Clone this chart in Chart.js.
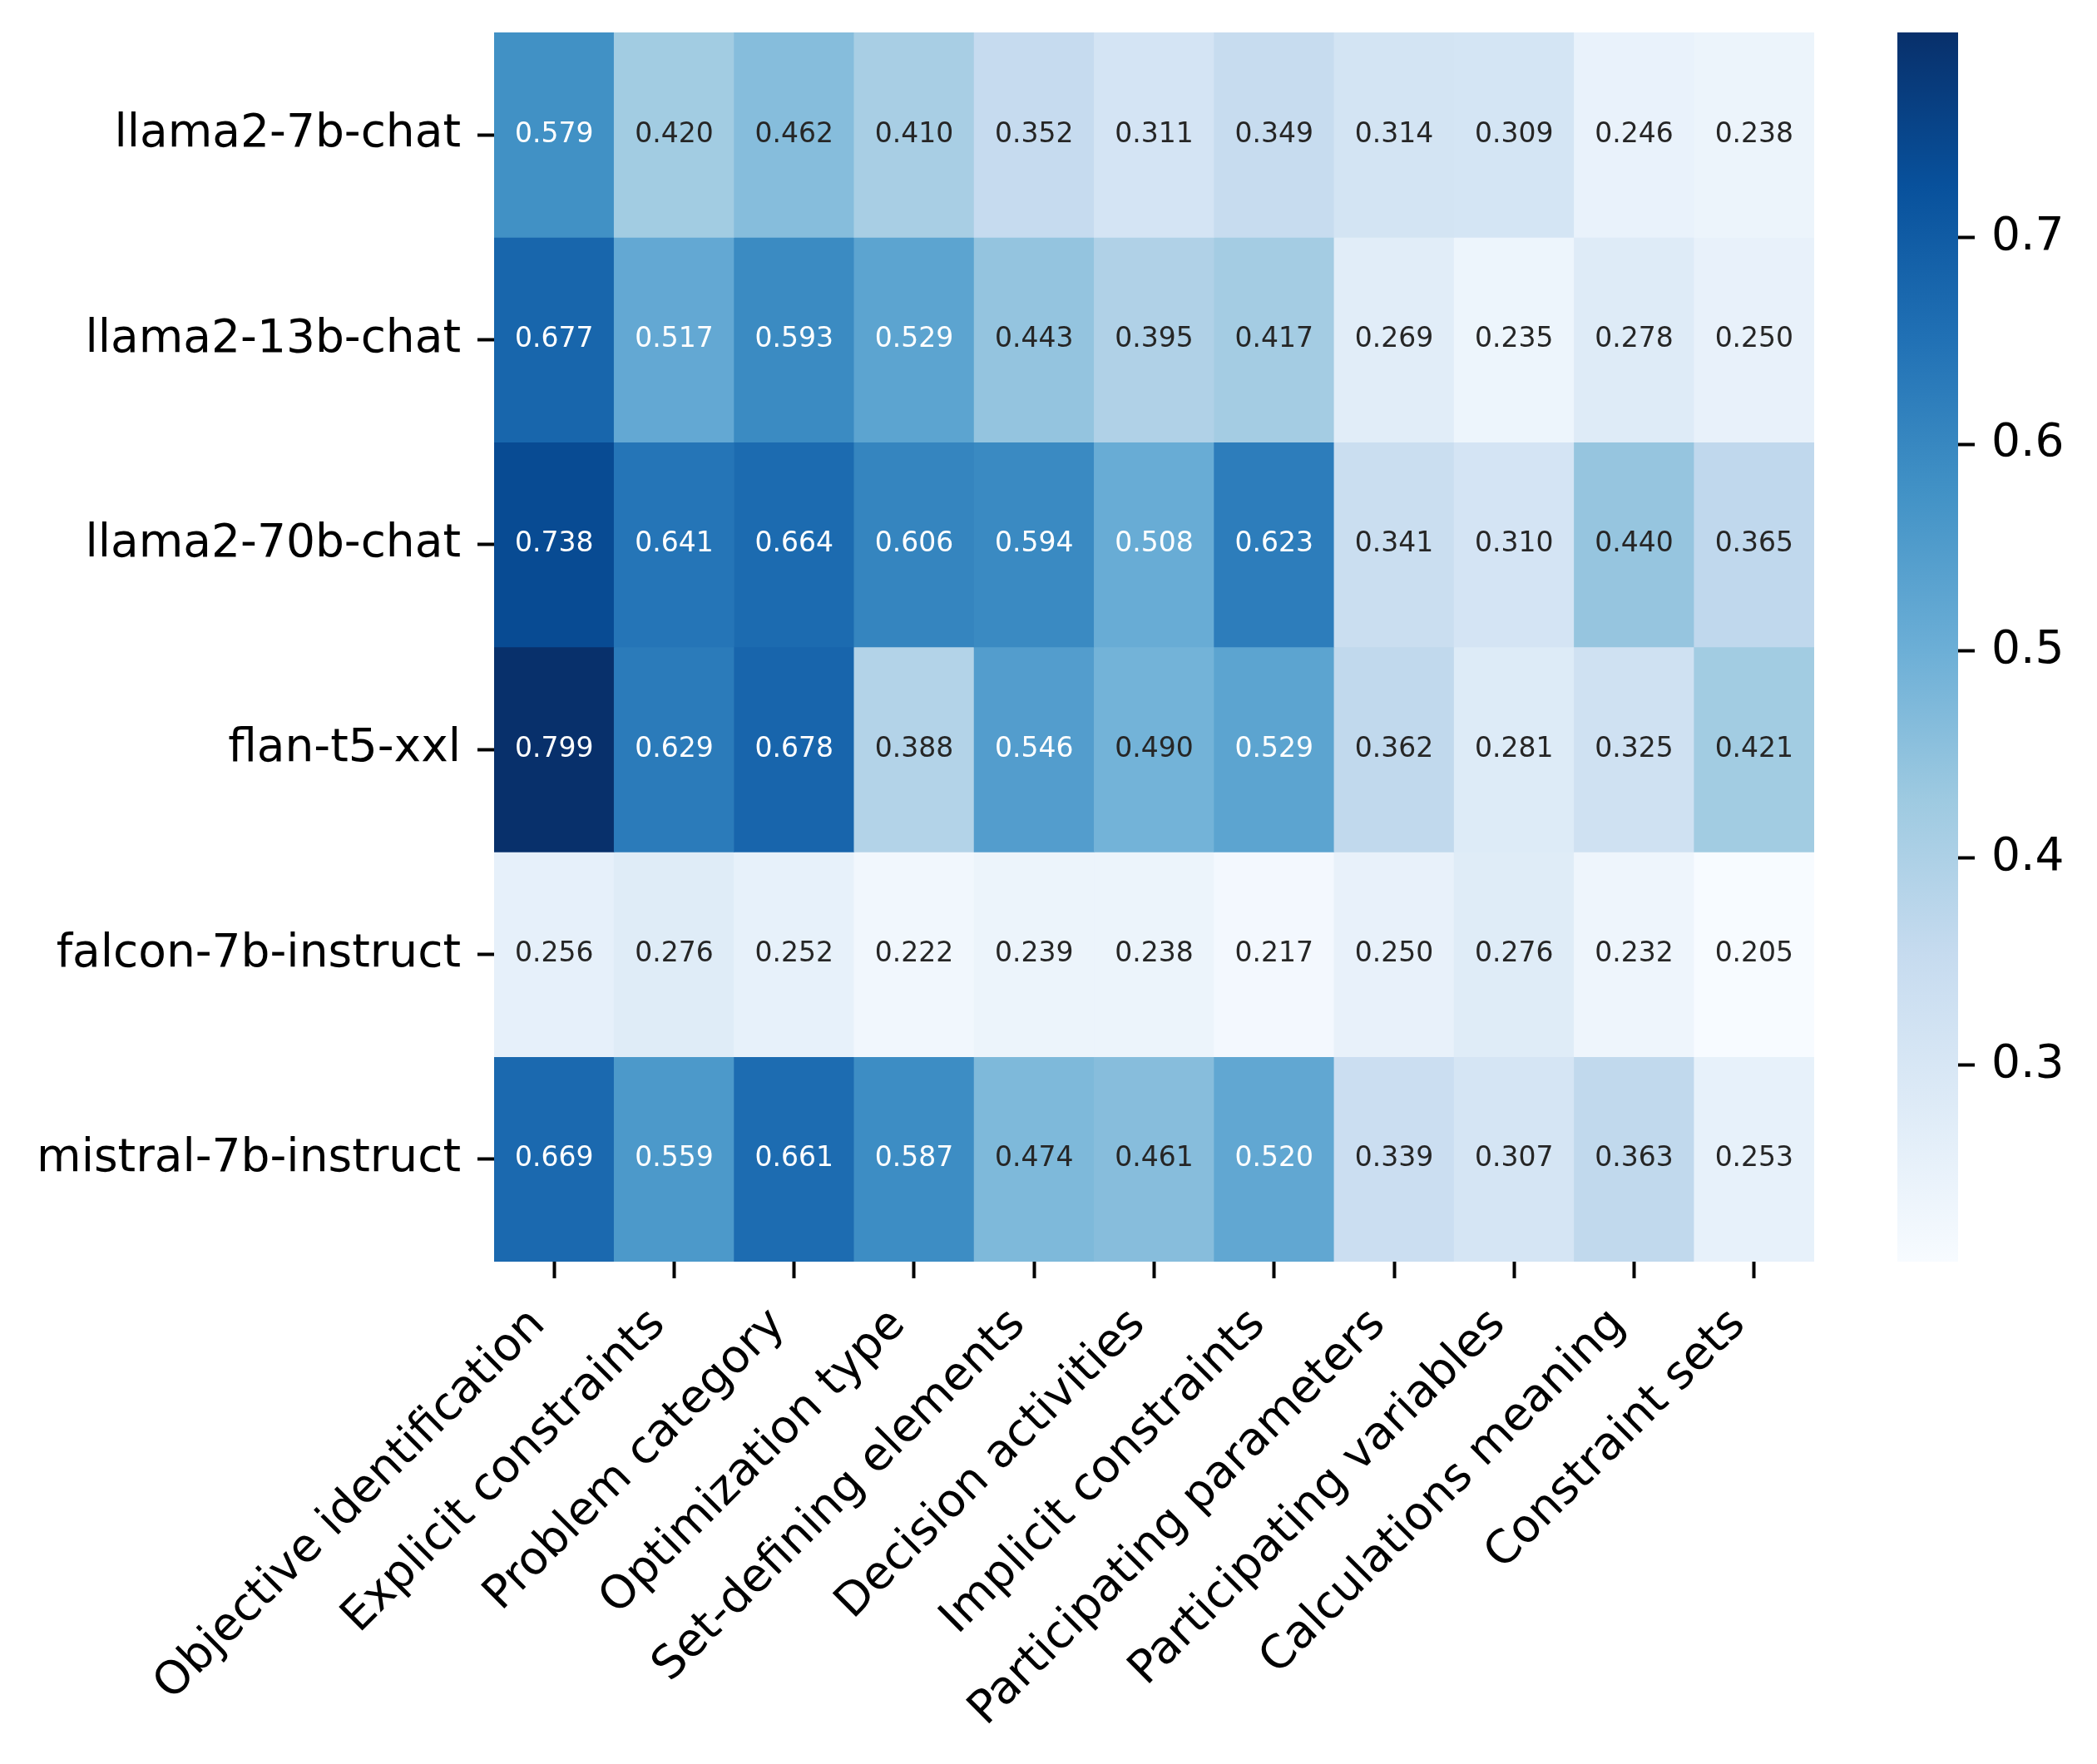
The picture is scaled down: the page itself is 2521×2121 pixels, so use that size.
<!DOCTYPE html>
<html>
<head>
<meta charset="utf-8">
<script src="https://cdn.jsdelivr.net/npm/chart.js@4.4.1/dist/chart.umd.min.js"></script>
<style>
  body { margin: 0; background: #fff; }
  #heat { position: absolute; left: 0; top: 0; }
  #cbar { position: absolute; left: 2200px; top: 0; }
</style>
</head>
<body>
<canvas id="heat" width="2220" height="2121"></canvas>
<canvas id="cbar" width="321" height="2121"></canvas>
<script>
// rows top to bottom, columns left to right
var models = ['llama2-7b-chat', 'llama2-13b-chat', 'llama2-70b-chat', 'flan-t5-xxl', 'falcon-7b-instruct', 'mistral-7b-instruct'];
var aspects = ['Objective identification', 'Explicit constraints', 'Problem category', 'Optimization type',
    'Set-defining elements', 'Decision activities', 'Implicit constraints', 'Participating parameters',
    'Participating variables', 'Calculations meaning', 'Constraint sets'];

var llama7 = [0.579, 0.420, 0.462, 0.410, 0.352, 0.311, 0.349, 0.314, 0.309, 0.246, 0.238];
var llama13 = [0.677, 0.517, 0.593, 0.529, 0.443, 0.395, 0.417, 0.269, 0.235, 0.278, 0.250];
var llama70 = [0.738, 0.641, 0.664, 0.606, 0.594, 0.508, 0.623, 0.341, 0.310, 0.440, 0.365];
var flan = [0.799, 0.629, 0.678, 0.388, 0.546, 0.490, 0.529, 0.362, 0.281, 0.325, 0.421];
var falcon = [0.256, 0.276, 0.252, 0.222, 0.239, 0.238, 0.217, 0.250, 0.276, 0.232, 0.205];
var mistral = [0.669, 0.559, 0.661, 0.587, 0.474, 0.461, 0.520, 0.339, 0.307, 0.363, 0.253];
var scores = [llama7, llama13, llama70, flan, falcon, mistral];

var cbarTicks = [0.3, 0.4, 0.5, 0.6, 0.7];

// matplotlib "Blues"
var blues = ['#f7fbff', '#deebf7', '#c6dbef', '#9ecae1', '#6baed6', '#4292c6', '#2171b5', '#08519c', '#08306b'];

var FONT = 'DejaVu Sans';
var vmin = Math.min.apply(null, scores.map(function(r) { return Math.min.apply(null, r); }));
var vmax = Math.max.apply(null, scores.map(function(r) { return Math.max.apply(null, r); }));

function hexRgb(h) {
    return [parseInt(h.substr(1, 2), 16), parseInt(h.substr(3, 2), 16), parseInt(h.substr(5, 2), 16)];
}

function bluesRgb(v) {
    var t = (v - vmin) / (vmax - vmin);
    t = Math.max(0, Math.min(1, t)) * (blues.length - 1);
    var i = Math.min(Math.floor(t), blues.length - 2), f = t - i;
    var a = hexRgb(blues[i]), b = hexRgb(blues[i + 1]);
    return [0, 1, 2].map(function(k) { return Math.round(a[k] + (b[k] - a[k]) * f); });
}

function colorOf(v) {
    var c = bluesRgb(v);
    return 'rgb(' + c.join(',') + ')';
}

// same rule seaborn uses to pick annotation colour
function textColorOf(v) {
    var c = bluesRgb(v).map(function(x) {
        x = x / 255;
        return x <= 0.03928 ? x / 12.92 : Math.pow((x + 0.055) / 1.055, 2.4);
    });
    var lum = 0.2126 * c[0] + 0.7152 * c[1] + 0.0722 * c[2];
    return lum > 0.408 ? '#262626' : '#ffffff';
}

// no extra room for half labels at the ends of an axis
function noEdgePad(s) {
    s.paddingTop = 0; s.paddingBottom = 0; s.paddingLeft = 0; s.paddingRight = 0;
}

var datasets = scores.map(function(row, r) {
    return {
        label: models[r],
        data: row.map(function() { return [r, r + 1]; }),
        values: row,
        backgroundColor: row.map(colorOf),
        borderWidth: 0
    };
});

var annotate = {
    id: 'annotate',
    afterDatasetsDraw: function(chart) {
        var ctx = chart.ctx;
        ctx.save();
        ctx.font = '33px "' + FONT + '"';
        ctx.textAlign = 'center';
        ctx.textBaseline = 'middle';
        chart.data.datasets.forEach(function(ds, d) {
            chart.getDatasetMeta(d).data.forEach(function(bar, i) {
                var v = ds.values[i];
                ctx.fillStyle = textColorOf(v);
                ctx.fillText(v.toFixed(3), bar.x, (bar.y + bar.base) / 2);
            });
        });
        ctx.restore();
    }
};

new Chart(document.getElementById('heat'), {
    type: 'bar',
    data: { labels: aspects, datasets: datasets },
    plugins: [annotate],
    options: {
        responsive: false,
        animation: false,
        devicePixelRatio: 1,
        layout: { padding: { left: 0, top: 39, right: 39, bottom: 0 } },
        datasets: { bar: { grouped: false, barPercentage: 1, categoryPercentage: 1 } },
        plugins: { legend: { display: false }, tooltip: { enabled: false } },
        scales: {
            x: {
                grid: { offset: false, drawOnChartArea: false, drawTicks: true, tickLength: 20, tickWidth: 4, color: '#000' },
                border: { display: false },
                ticks: { autoSkip: false, minRotation: 45, maxRotation: 45, padding: 24, labelOffset: -19, color: '#000', font: { family: FONT, size: 55 } },
                afterFit: function(s) { noEdgePad(s); s.height = 604; }
            },
            y: {
                type: 'linear',
                min: 0,
                max: models.length,
                reverse: true,
                grid: { drawOnChartArea: false, drawTicks: true, tickLength: 20, tickWidth: 4, color: '#000' },
                border: { display: false },
                afterBuildTicks: function(s) {
                    s.ticks = models.map(function(m, i) { return { value: i + 0.5 }; });
                },
                ticks: {
                    padding: 20,
                    color: '#000',
                    font: { family: FONT, size: 55 },
                    callback: function(v) { return models[Math.floor(v)]; }
                },
                afterFit: function(s) { noEdgePad(s); s.width = 594; }
            }
        }
    }
});

// colour bar
new Chart(document.getElementById('cbar'), {
    type: 'bar',
    data: {
        labels: [''],
        datasets: [{
            data: [[vmin, vmax]],
            borderWidth: 0,
            backgroundColor: function(c) {
                var chart = c.chart, area = chart.chartArea;
                if (!area) return blues[4];
                var y = chart.scales.y;
                var g = chart.ctx.createLinearGradient(0, y.getPixelForValue(vmin), 0, y.getPixelForValue(vmax));
                blues.forEach(function(col, i) { g.addColorStop(i / (blues.length - 1), col); });
                return g;
            }
        }]
    },
    options: {
        responsive: false,
        animation: false,
        devicePixelRatio: 1,
        layout: { padding: { left: 81, top: 39, right: 0, bottom: 604 } },
        datasets: { bar: { barPercentage: 1, categoryPercentage: 1 } },
        plugins: { legend: { display: false }, tooltip: { enabled: false } },
        scales: {
            x: { display: false },
            y: {
                position: 'right',
                min: vmin,
                max: vmax,
                grid: { drawOnChartArea: false, drawTicks: true, tickLength: 20, tickWidth: 4, color: '#000' },
                border: { display: false },
                afterBuildTicks: function(s) {
                    s.ticks = cbarTicks.map(function(v) { return { value: v }; });
                },
                ticks: {
                    padding: 20,
                    color: '#000',
                    font: { family: FONT, size: 55 },
                    callback: function(v) { return v.toFixed(1); }
                },
                afterFit: function(s) { noEdgePad(s); s.width = 167; }
            }
        }
    }
});
</script>
</body>
</html>
